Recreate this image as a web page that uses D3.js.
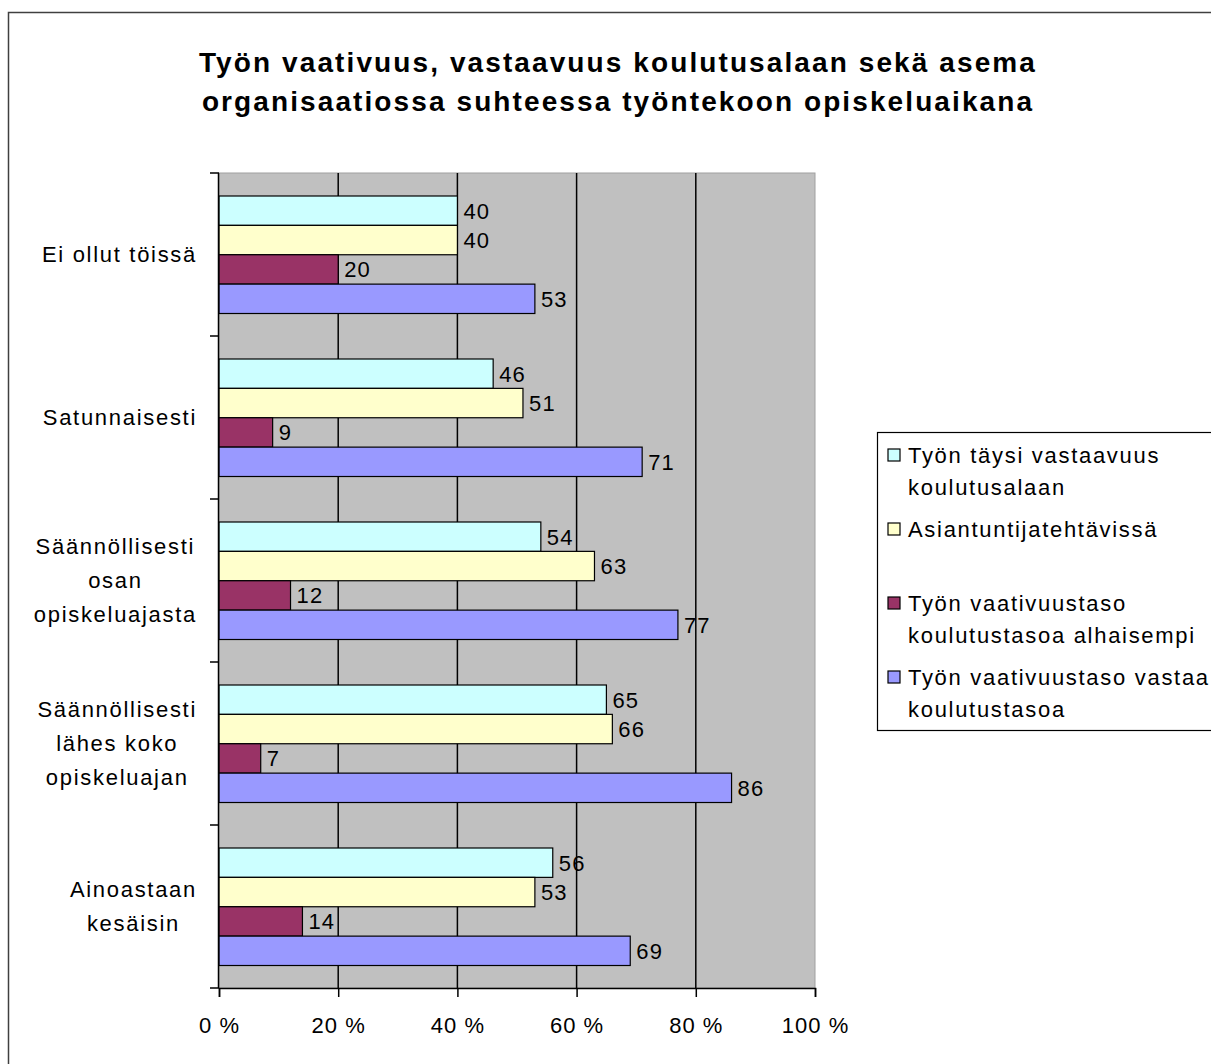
<!DOCTYPE html>
<html>
<head>
<meta charset="utf-8">
<script src="https://cdn.jsdelivr.net/npm/d3@7"></script>
<style>
  body { margin: 0; background: #fff; }
  text { font-family: "Liberation Sans", Arial, sans-serif; }
</style>
</head>
<body>
<div id="chart"></div>
<script>
const width = 1211;
const height = 1064;

const titleLines = ["Työn vaativuus, vastaavuus koulutusalaan sekä asema",
                    "organisaatiossa suhteessa työntekoon opiskeluaikana"];

const categories = [
    ["Ei ollut töissä"],
    ["Satunnaisesti"],
    ["Säännöllisesti", "osan", "opiskeluajasta"],
    ["Säännöllisesti", "lähes koko", "opiskeluajan"],
    ["Ainoastaan", "kesäisin"]
];

const seriesNames = [
    ["Työn täysi vastaavuus", "koulutusalaan"],
    ["Asiantuntijatehtävissä"],
    ["Työn vaativuustaso", "koulutustasoa alhaisempi"],
    ["Työn vaativuustaso vastaa", "koulutustasoa"]
];
const seriesColors = ["#ccffff", "#ffffcc", "#993366", "#9999ff"];

const fullMatch   = [40, 46, 54, 65, 56];
const expertTasks = [40, 51, 63, 66, 53];
const belowLevel  = [20, 9, 12, 7, 14];
const matchLevel  = [53, 71, 77, 86, 69];
const seriesValues = [fullMatch, expertTasks, belowLevel, matchLevel];

const xTicks = [0, 20, 40, 60, 80, 100];

const plot = { left: 219, right: 815, top: 173, bottom: 988 };
const spacing = 1.7;

const svg = d3.select("#chart").append("svg")
    .attr("width", width)
    .attr("height", height)
    .style("display", "block");

// outer frame
svg.append("rect")
    .attr("x", 8.5).attr("y", 12.5)
    .attr("width", width + 20).attr("height", height + 20)
    .attr("fill", "#fff")
    .attr("stroke", "#404040")
    .attr("stroke-width", 1.5);

// title
svg.append("g").selectAll("text")
    .data(titleLines)
    .enter().append("text")
    .attr("x", 618)
    .attr("y", (d, i) => 72 + i * 39)
    .attr("text-anchor", "middle")
    .attr("font-size", 28)
    .attr("font-weight", "bold")
    .attr("letter-spacing", 2.1)
    .text(d => d);

const x = d3.scaleLinear().domain([0, 100]).range([plot.left, plot.right]);
const y = d3.scaleBand().domain(d3.range(categories.length)).range([plot.top, plot.bottom]);
const gap = 23;
const yInner = d3.scaleBand().domain(d3.range(seriesValues.length)).range([gap, y.bandwidth() - gap + 0.5]);

// plot background
svg.append("rect")
    .attr("x", plot.left).attr("y", plot.top)
    .attr("width", plot.right - plot.left).attr("height", plot.bottom - plot.top)
    .attr("fill", "#c0c0c0")
    .attr("stroke", "#a0a0a0")
    .attr("stroke-width", 1);

// gridlines
svg.append("g").selectAll("line")
    .data(xTicks.slice(1, -1))
    .enter().append("line")
    .attr("x1", d => x(d)).attr("x2", d => x(d))
    .attr("y1", plot.top).attr("y2", plot.bottom)
    .attr("stroke", "#000")
    .attr("stroke-width", 1.5);

// bars
const groups = svg.append("g").selectAll("g")
    .data(categories)
    .enter().append("g")
    .attr("transform", (d, i) => `translate(0,${y(i)})`);

groups.each(function(cat, ci) {
    const g = d3.select(this);
    seriesValues.forEach((vals, si) => {
        g.append("rect")
            .attr("x", x(0))
            .attr("y", yInner(si))
            .attr("width", x(vals[ci]) - x(0))
            .attr("height", yInner.bandwidth())
            .attr("fill", seriesColors[si])
            .attr("stroke", "#000")
            .attr("stroke-width", 1.2);
    });
    seriesValues.forEach((vals, si) => {
        g.append("text")
            .attr("x", x(vals[ci]) + 6)
            .attr("y", yInner(si) + yInner.bandwidth() / 2)
            .attr("dy", "0.36em")
            .attr("font-size", 22)
            .attr("letter-spacing", 1.2)
            .attr("fill", "#000")
            .text(vals[ci]);
    });
});

// category labels
const labelG = svg.append("g");
categories.forEach((lines, ci) => {
    const t = labelG.append("text")
        .attr("font-size", 22)
        .attr("letter-spacing", spacing)
        .attr("text-anchor", "middle");
    const mid = y(ci) + y.bandwidth() / 2;
    const lh = 34;
    lines.forEach((line, li) => {
        t.append("tspan")
            .attr("y", mid + (li - (lines.length - 1) / 2) * lh)
            .attr("dy", "0.36em")
            .text(line);
    });
    let maxW = 0;
    t.selectAll("tspan").each(function() {
        maxW = Math.max(maxW, this.getComputedTextLength());
    });
    t.selectAll("tspan").attr("x", 197 - maxW / 2);
});

// y axis line and ticks
svg.append("line")
    .attr("x1", plot.left - 0.5).attr("x2", plot.left - 0.5)
    .attr("y1", plot.top).attr("y2", plot.bottom)
    .attr("stroke", "#000").attr("stroke-width", 1.5);
svg.append("g").selectAll("line")
    .data(d3.range(categories.length + 1))
    .enter().append("line")
    .attr("x1", plot.left - 9).attr("x2", plot.left)
    .attr("y1", d => plot.top + d * y.bandwidth())
    .attr("y2", d => plot.top + d * y.bandwidth())
    .attr("stroke", "#000").attr("stroke-width", 1.5);

// x axis
const xAxis = svg.append("g")
    .attr("transform", `translate(0,${plot.bottom})`)
    .call(d3.axisBottom(x).tickValues(xTicks).tickSize(9).tickPadding(20).tickFormat(d => d + " %"));
xAxis.select(".domain").attr("stroke", "#000").attr("stroke-width", 1.5);
xAxis.selectAll(".tick line").attr("stroke", "#000").attr("stroke-width", 1.5);
xAxis.selectAll(".tick text")
    .attr("font-size", 22)
    .attr("letter-spacing", 1)
    .attr("font-family", "Liberation Sans, Arial, sans-serif")
    .attr("fill", "#000");

// legend
const legend = svg.append("g");
legend.append("rect")
    .attr("x", 877.5).attr("y", 432.5)
    .attr("width", 400).attr("height", 298)
    .attr("fill", "#fff")
    .attr("stroke", "#000")
    .attr("stroke-width", 1.2);

seriesNames.forEach((lines, si) => {
    const cy = 455 + si * 74;
    legend.append("rect")
        .attr("x", 888).attr("y", cy - 6)
        .attr("width", 12).attr("height", 12)
        .attr("fill", seriesColors[si])
        .attr("stroke", "#000")
        .attr("stroke-width", 1.2);
    lines.forEach((line, li) => {
        legend.append("text")
            .attr("x", 908)
            .attr("y", cy + li * 32)
            .attr("dy", "0.36em")
            .attr("font-size", 22)
            .attr("letter-spacing", spacing)
            .text(line);
    });
});
</script>
</body>
</html>
